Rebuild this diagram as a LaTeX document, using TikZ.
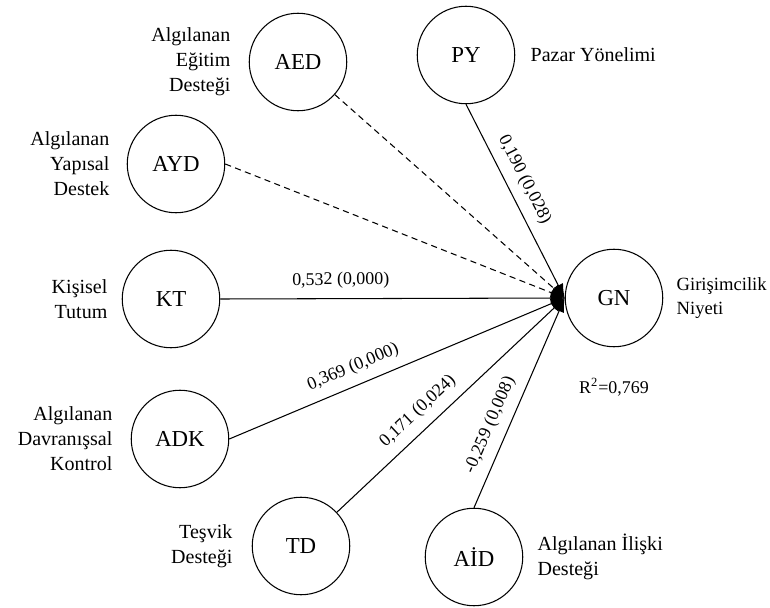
\documentclass[tikz,border=0pt]{standalone}
\usepackage{fontspec}
\setmainfont{Liberation Serif}
\usetikzlibrary{arrows.meta, positioning}

\begin{document}
\begin{tikzpicture}[
  latent/.style={circle, draw=black, line width=0.6pt, fill=white, minimum size=1.95cm, inner sep=0pt, font=\fontsize{13}{15}\selectfont},
  notel/.style={align=right, inner sep=0pt, font=\fontsize{11.4}{14.2}\selectfont},
  noter/.style={align=left, inner sep=0pt, font=\fontsize{11.4}{14.2}\selectfont},
  arr/.style={-{Latex[length=8pt, width=6pt]}, line width=0.6pt},
  dasharr/.style={arr, dash pattern=on 3.5pt off 2.5pt},
  lbl/.style={font=\fontsize{10.2}{12}\selectfont, sloped, above=2pt},
]
\useasboundingbox (0,0) rectangle (15.4,12.14);

% constructs
\node[latent] (gn)  at (12.28,6.18) {GN};
\node[latent] (py)  at (9.32,11.04) {PY};
\node[latent] (aed) at (5.96,10.90) {AED};
\node[latent] (ayd) at (3.52,8.86)  {AYD};
\node[latent] (kt)  at (3.42,6.16)  {KT};
\node[latent] (adk) at (3.60,3.36)  {ADK};
\node[latent] (td)  at (6.02,1.22)  {TD};
\node[latent] (aid) at (9.48,1.00)  {AİD};

% construct names
\node[notel, left=0.36cm of aed] (aedtxt) {Algılanan\\Eğitim\\Desteği};
\node[notel, left=0.34cm of ayd] (aydtxt) {Algılanan\\Yapısal\\Destek};
\node[notel, left=0.28cm of kt]  (kttxt)  {Kişisel\\Tutum};
\node[notel, left=0.36cm of adk] (adktxt) {Algılanan\\Davranışsal\\Kontrol};
\node[notel, left=0.38cm of td]  (tdtxt)  {Teşvik\\Desteği};
\node[noter, right=0.3cm of py]  (pytxt)  {Pazar Yönelimi};
\node[noter, right=0.26cm of gn, font=\fontsize{10.6}{13.6}\selectfont] (gntxt) {Girişimcilik\\Niyeti};
\node[noter, right=0.28cm of aid] (aidtxt) {Algılanan İlişki\\Desteği};
\node[font=\fontsize{10.2}{12}\selectfont, inner sep=0pt, below=0.62cm of gn] (rsq) {R\textsuperscript{2}=0,769};

% paths
\draw[dasharr] (aed) -- (gn.west);
\draw[dasharr] (ayd.east) -- (gn.west);
\draw[arr] (py.south) -- node[lbl, pos=0.43] (pyw) {0,190 (0,028)} (gn.west);
\draw[arr] (kt.east) -- node[lbl, pos=0.35] (ktw) {0,532 (0,000)} (gn.west);
\draw[arr] (adk.east) -- node[lbl, pos=0.39] (adkw) {0,369 (0,000)} (gn.west);
\draw[arr] (td) -- node[lbl, pos=0.41] (tdw) {0,171 (0,024)} (gn.west);
\draw[arr] (aid.north) -- node[lbl, pos=0.36] (aidw) {-0,259 (0,008)} (gn.west);
\end{tikzpicture}
\end{document}
